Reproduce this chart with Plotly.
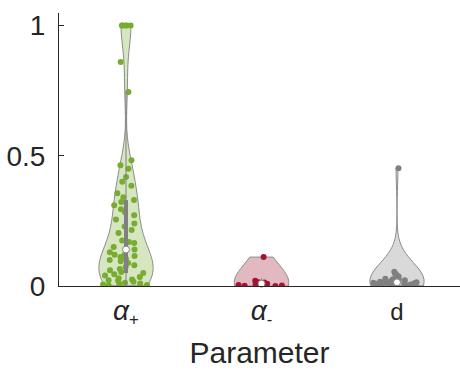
import numpy as np
import plotly.graph_objects as go

# ---- data ----
categories = ["α+", "α-", "d"]
tick_labels = ["<span style='font-size:28px'><i>α</i></span><sub>+</sub>",
               "<span style='font-size:28px'><i>α</i></span><sub>-</sub>",
               "d"]
positions = [1, 2, 3]

alpha_plus = [1.0, 1.0, 1.0, 1.0, 1.0, 0.86, 0.745,
              0.483, 0.464, 0.45, 0.418, 0.40,
              0.385, 0.356, 0.341, 0.33, 0.322, 0.31,
              0.295, 0.283, 0.272, 0.255, 0.24, 0.228, 0.215, 0.203,
              0.12, 0.115, 0.175, 0.169, 0.165, 0.15, 0.14, 0.13, 0.119, 0.111, 0.105, 0.1,
              0.095, 0.088, 0.08, 0.073, 0.065, 0.06, 0.054, 0.05, 0.045, 0.04, 0.035, 0.03,
              0.025, 0.022, 0.02, 0.016, 0.012, 0.01, 0.008, 0.006, 0.004, 0.002, 0.001]
alpha_minus = [0.111, 0.02, 0.014, 0.013, 0.011, 0.009, 0.006, 0.004, 0.002, 0.001, 0.0]
d_vals = [0.452, 0.055, 0.048, 0.042, 0.036, 0.033, 0.03, 0.028, 0.026, 0.024,
          0.022, 0.02, 0.018, 0.016, 0.015, 0.014, 0.013, 0.012, 0.011, 0.011,
          0.01, 0.009, 0.008, 0.008, 0.007, 0.006, 0.005, 0.004, 0.003, 0.002, 0.001]

series = [alpha_plus, alpha_minus, d_vals]
point_colors = ["#77AC30", "#A2142F", "#808080"]
fill_colors = ["#d6e6c1", "#e3b9c1", "#d9d9d9"]
bandwidths = [0.075, 0.07, 0.07]

BOX = "#808080"
AX = "#262626"
FONT = "Liberation Sans, Arial, Helvetica, sans-serif"

fig = go.Figure()

for vals, pos, pc, fc, bw in zip(series, positions, point_colors, fill_colors, bandwidths):
    fig.add_trace(go.Violin(
        x=[pos] * len(vals), y=vals,
        spanmode="hard", bandwidth=bw, width=0.4, scalemode="width",
        fillcolor=fc, line=dict(color="#8c8c8c", width=1),
        points="all", pointpos=0, jitter=1,
        marker=dict(color=pc, size=6, line=dict(width=0)),
        box_visible=False, meanline_visible=False,
        hoverinfo="skip", showlegend=False, orientation="v",
    ))

for vals, pos in zip(series, positions):
    a = np.asarray(vals)
    q1, med, q3 = np.percentile(a, [25, 50, 75])
    iqr = q3 - q1
    lo = max(q1 - 1.5 * iqr, a.min())
    hi = min(q3 + 1.5 * iqr, a.max())
    fig.add_trace(go.Scatter(x=[pos, pos], y=[lo, hi], mode="lines",
                             line=dict(color=BOX, width=1), showlegend=False, hoverinfo="skip"))
    fig.add_trace(go.Scatter(x=[pos, pos], y=[q1, q3], mode="lines",
                             line=dict(color=BOX, width=4), showlegend=False, hoverinfo="skip"))
    fig.add_trace(go.Scatter(x=[pos], y=[med], mode="markers",
                             marker=dict(color="white", size=7, line=dict(color=BOX, width=1)),
                             showlegend=False, hoverinfo="skip", cliponaxis=False))

fig.update_layout(
    width=460, height=373,
    margin=dict(l=59, r=0, t=13, b=87),
    paper_bgcolor="white", plot_bgcolor="white",
    violinmode="overlay",
    font=dict(family=FONT, color=AX, size=24),
)
fig.update_xaxes(
    range=[0.5055, 3.465], tickvals=positions, ticktext=tick_labels,
    showline=True, linecolor=AX, linewidth=1, showgrid=False, zeroline=False,
    ticks="", ticklabelstandoff=4,
    tickfont=dict(size=24, family=FONT, color=AX),
    title=dict(text="Parameter", font=dict(size=30, family=FONT, color=AX), standoff=14),
)
fig.update_yaxes(
    range=[0, 1.048], tickvals=[0, 0.5, 1], ticktext=["0", "0.5", "1"],
    showline=True, linecolor=AX, linewidth=1, showgrid=False, zeroline=False,
    ticks="inside", ticklen=5, tickcolor=AX, ticklabelstandoff=7,
    tickfont=dict(size=28, family=FONT, color=AX),
)

fig.write_html("out.html")
